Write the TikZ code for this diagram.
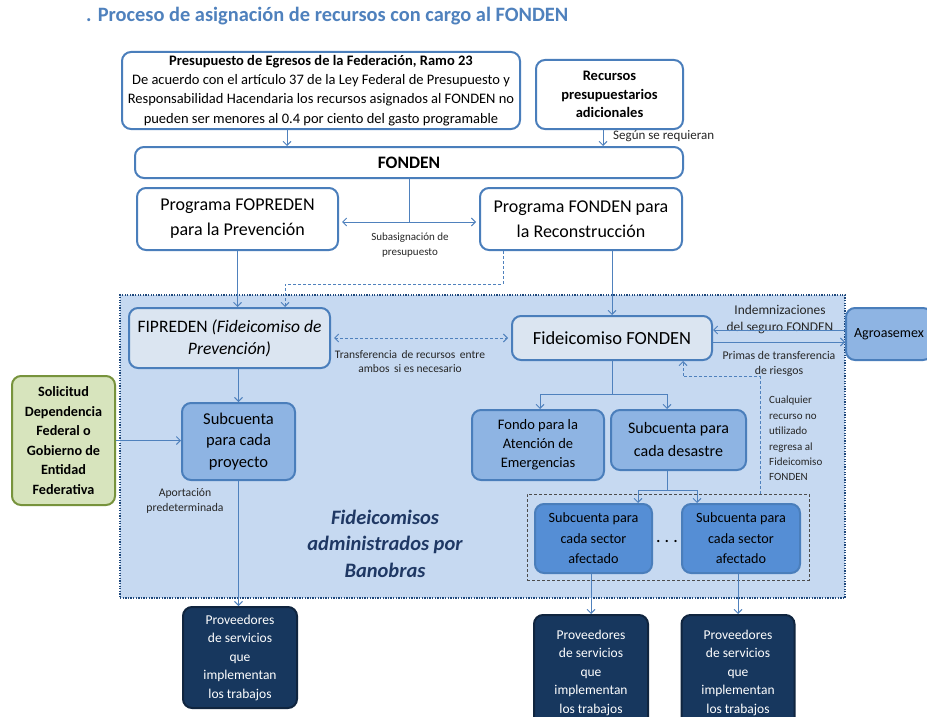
\documentclass[tikz,border=0pt]{standalone}
\usepackage{fontspec}
\setmainfont{Carlito}
\usetikzlibrary{arrows.meta}
\definecolor{titlec}{HTML}{4F81BD}
\definecolor{bordc}{HTML}{4A7EBB}
\definecolor{linec}{HTML}{4F81BD}
\definecolor{regc}{HTML}{C6D9F1}
\definecolor{regb}{HTML}{1F497D}
\definecolor{lightc}{HTML}{DBE5F1}
\definecolor{medc}{HTML}{8EB4E3}
\definecolor{secc}{HTML}{558ED5}
\definecolor{navyc}{HTML}{17375E}
\definecolor{navyb}{HTML}{10253F}
\definecolor{greenf}{HTML}{D7E4BD}
\definecolor{greenb}{HTML}{77933C}
\definecolor{labc}{HTML}{262626}
\definecolor{banc}{HTML}{1F3864}
\newcommand{\fsz}[2]{\fontsize{#1}{#2}\selectfont}
\begin{document}
\begin{tikzpicture}[x=1pt,y=-1pt,
  box/.style={draw=bordc, line width=2pt, rounded corners=9pt, fill=white, inner sep=2pt, align=center, text=black},
  lightbox/.style={box, fill=lightc},
  medbox/.style={box, fill=medc},
  secbox/.style={box, fill=secc},
  navybox/.style={box, fill=navyc, draw=navyb, text=white},
  greenbox/.style={box, fill=greenf, draw=greenb},
  conn/.style={draw=linec, line width=0.9pt},
  arr/.style={conn, -{Straight Barb[length=4pt,width=8pt]}},
  darr/.style={conn, {Straight Barb[length=4pt,width=8pt]}-{Straight Barb[length=4pt,width=8pt]}},
  dconn/.style={conn, dash pattern=on 3pt off 2pt},
  lab/.style={align=center, text=labc, inner sep=0pt}
]
\useasboundingbox (0,0) rectangle (927,717);
\clip (0,0) rectangle (927,717);
\fill[white] (0,0) rectangle (927,717);

% title
\node[anchor=west, text=titlec, font=\fsz{20.4}{23}\bfseries, inner sep=0pt] (title) at (86,16) {. Proceso de asignación de recursos con cargo al FONDEN};

% region
\node[draw=regb, fill=regc, line width=2.5pt, dash pattern=on 1.3pt off 1.3pt, minimum width=725pt, minimum height=303pt, inner sep=0pt] (reg) at (482.5,446.5) {};
\node[draw=black!70, line width=0.6pt, dash pattern=on 3pt off 2pt, minimum width=282pt, minimum height=86pt, inner sep=0pt] (grp) at (668,537) {};

% top boxes
\node[box, minimum width=398pt, minimum height=77pt, font=\fsz{14.5}{19.3}] (pres) at (321,90.5)
 {\textbf{Presupuesto de Egresos de la Federación, Ramo 23}\\
  De acuerdo con el artículo 37 de la Ley Federal de Presupuesto y\\
  Responsabilidad Hacendaria los recursos asignados al FONDEN no\\
  pueden ser menores al 0.4 por ciento del gasto programable};
\node[box, minimum width=147pt, minimum height=69pt, font=\fsz{14.5}{18.5}\bfseries] (rec) at (609.5,94.5)
 {Recursos\\presupuestarios\\adicionales};
\node[box, minimum width=548pt, minimum height=31pt, font=\fsz{17.5}{20}\bfseries] (fonden) at (409,162.5) {FONDEN};
\node[box, minimum width=201pt, minimum height=62pt, font=\fsz{18}{25}] (fop) at (237.5,219)
 {Programa FOPREDEN\\para la Prevención};
\node[box, minimum width=202pt, minimum height=62pt, font=\fsz{18}{25}] (recon) at (581,219)
 {Programa FONDEN para\\la Reconstrucción};

% inside region
\node[lightbox, minimum width=201pt, minimum height=60pt, font=\fsz{17.5}{22}] (fip) at (229.5,338)
 {FIPREDEN \textit{(Fideicomiso de}\\\textit{Prevención)}};
\node[lightbox, minimum width=200pt, minimum height=44pt, font=\fsz{18.5}{21}] (fidf) at (612,338) {Fideicomiso FONDEN};
\node[medbox, minimum width=86pt, minimum height=52pt, font=\fsz{14}{17}] (agro) at (889,334) {Agroasemex};
\node[medbox, minimum width=132pt, minimum height=70pt, font=\fsz{14.5}{19}] (fondo) at (538,445)
 {Fondo para la\\Atención de\\Emergencias};
\node[medbox, minimum width=135pt, minimum height=60pt, font=\fsz{16}{23}] (desas) at (678.5,440)
 {Subcuenta para\\cada desastre};
\node[secbox, minimum width=117pt, minimum height=69pt, font=\fsz{14.2}{20.5}] (sec1) at (593.5,538.5)
 {Subcuenta para\\cada sector\\afectado};
\node[secbox, minimum width=118pt, minimum height=69pt, font=\fsz{14.2}{20.5}] (sec2) at (741,538.5)
 {Subcuenta para\\cada sector\\afectado};
\node[font=\fsz{15}{16}\bfseries, inner sep=0pt] (dots) at (667,541) {. . .};
\node[medbox, minimum width=113pt, minimum height=77pt, font=\fsz{16.5}{21.5}] (proy) at (238.5,441.5)
 {Subcuenta\\para cada\\proyecto};
\node[greenbox, minimum width=103pt, minimum height=129pt, font=\fsz{14.2}{19.5}\bfseries] (sol) at (63.5,440.5)
 {Solicitud\\Dependencia\\Federal o\\Gobierno de\\Entidad\\Federativa};

% providers
\node[navybox, minimum width=114pt, minimum height=101pt, font=\fsz{13.5}{18.5}] (prov1) at (240,657.5)
 {Proveedores\\de servicios\\que\\implementan\\los trabajos};
\node[navybox, minimum width=114pt, minimum height=115pt, font=\fsz{13.5}{18.5}] (prov2) at (591,672.5)
 {Proveedores\\de servicios\\que\\implementan\\los trabajos};
\node[navybox, minimum width=113pt, minimum height=115pt, font=\fsz{13.5}{18.5}] (prov3) at (738,672.5)
 {Proveedores\\de servicios\\que\\implementan\\los trabajos};

% labels
\node[lab, font=\fsz{13}{15}, anchor=west] (segun) at (613,136) {Según se requieran};
\node[lab, font=\fsz{11}{15}] (subasig) at (410,245) {Subasignación de\\presupuesto};
\node[lab, font=\fsz{11.5}{14.5}] (transf) at (410,361.5) {Transferencia\, de recursos\, entre\\ambos\, si es necesario};
\node[lab, font=\fsz{13.4}{17}] (indem) at (780,319.5) {Indemnizaciones\\del seguro FONDEN};
\node[lab, font=\fsz{11.8}{15}] (primas) at (779,363.5) {Primas de transferencia\\de riesgos};
\node[lab, font=\fsz{11}{15.4}, align=left, anchor=north west] (cual) at (769,396) {Cualquier\\recurso no\\utilizado\\regresa al\\Fideicomiso\\FONDEN};
\node[lab, font=\fsz{11.7}{15}] (aport) at (185,500.5) {Aportación\\predeterminada};
\node[lab, font=\fsz{20.5}{26.5}\bfseries\itshape, text=banc] (banob) at (385,543.5) {Fideicomisos\\administrados por\\Banobras};

% connectors
\draw[arr] ([xshift=-34pt]pres.south) -- ([xshift=-34pt]pres.south |- fonden.north);
\draw[arr] ([xshift=-6.5pt]rec.south) -- ([xshift=-6.5pt]rec.south |- fonden.north);
\draw[conn] (fonden.south) -- ([yshift=-3pt]fonden.south |- fop.east);
\draw[darr, shorten <=3pt, shorten >=3pt] ([yshift=-3pt]fop.east) -- ([yshift=-3pt]recon.west);
\draw[arr] (fop.south) -- (fop.south |- fip.north);
\draw[dconn, -{Straight Barb[length=4pt,width=8pt]}] ([xshift=-78pt]recon.south) -- ++(0,33) -| ([xshift=55.5pt]fip.north);
\draw[arr] (fidf.north |- recon.south) -- (fidf.north);
\draw[dconn, {Straight Barb[length=4pt,width=8pt]}-{Straight Barb[length=4pt,width=8pt]}, shorten <=3pt, shorten >=3pt] (fip.east) -- (fidf.west);
\draw[conn] (fidf.south) -- ++(0,33) coordinate (s1);
\draw[arr] (s1) -| ([xshift=2pt]fondo.north);
\draw[arr] (s1) -| ([xshift=-11.5pt]desas.north);
\draw[conn] ([xshift=-11.5pt]desas.south) -- ++(0,19) coordinate (s2);
\draw[arr] (s2) -| ([xshift=44.5pt]sec1.north);
\draw[arr] (s2) -| ([xshift=-44pt]sec2.north);
\draw[arr] (prov2.north |- sec1.south) -- (prov2.north);
\draw[arr] (prov3.north |- sec2.south) -- (prov3.north);
\draw[arr] (proy.north |- fip.south) -- (proy.north);
\draw[arr] (proy.south) -- (proy.south |- prov1.north);
\draw[arr] (sol.east) -- (sol.east -| proy.west);
\draw[arr] ([yshift=4pt]agro.west) -- ([yshift=4pt]agro.west -| fidf.east);
\draw[arr] ([yshift=-4pt]fidf.east) -- ([yshift=-4pt]fidf.east -| agro.west);
\draw[dconn, -{Straight Barb[length=4pt,width=8pt]}] ([xshift=92pt]grp.north) -- ++(0,-117) -| ([xshift=71pt]fidf.south);
\end{tikzpicture}
\end{document}
